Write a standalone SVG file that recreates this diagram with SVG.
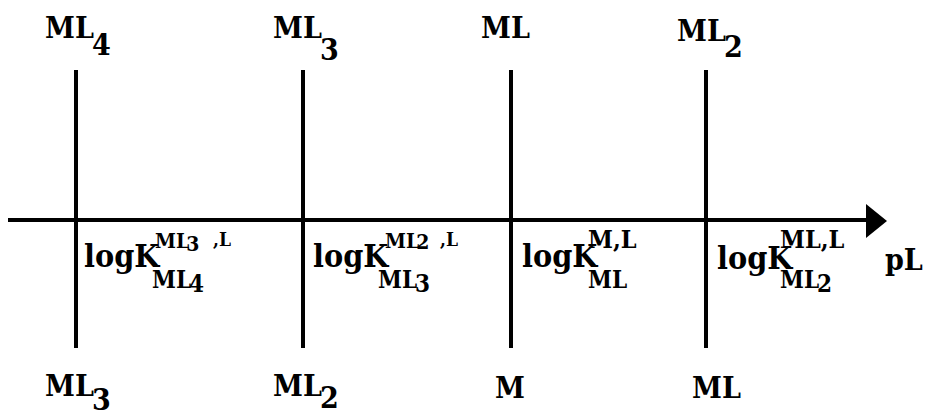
<svg xmlns="http://www.w3.org/2000/svg" width="926" height="412" viewBox="0 0 926 412" font-family="DejaVu Serif Condensed, DejaVu Serif, serif" font-weight="bold">
<style>
.sp{font-size:30px}
.lg{font-size:32px}
.s{font-size:24px}
.ss{font-size:21px}
.sm{font-size:25px}
.sl{font-size:19px}
.ln{stroke:#000;stroke-width:4;fill:none}
</style>
<rect width="926" height="412" fill="#fff"/>
<g id="connectors">
<line class="ln" x1="8" y1="220" x2="870" y2="220" stroke-width="4.5"/>
<polygon points="866,204 887,221 866,238" fill="#000"/>
</g>
<g id="b1">
<line class="ln" x1="76" y1="70" x2="76" y2="348"/>
<text class="sp" x="45" y="38">ML<tspan dx="-2" y="55">4</tspan></text>
<text class="sp" x="45" y="396">ML<tspan dx="-2" y="410">3</tspan></text>
<text class="lg" x="84" y="267">logK</text>
<text class="s" x="152" y="288">ML<tspan dx="-2" dy="4">4</tspan></text>
<text class="ss" x="155" y="248">ML<tspan dx="-3" dy="3">3</tspan></text>
<text class="sl" x="213" y="246">,L</text>
</g>
<g id="b2">
<line class="ln" x1="303" y1="70" x2="303" y2="348"/>
<text class="sp" x="273" y="38">ML<tspan dx="-2" y="60">3</tspan></text>
<text class="sp" x="273" y="396">ML<tspan dx="-2" y="408">2</tspan></text>
<text class="lg" x="313" y="267">logK</text>
<text class="s" x="378" y="288">ML<tspan dx="-2" dy="4">3</tspan></text>
<text class="ss" x="385" y="248">ML<tspan dx="-3" dy="1">2</tspan></text>
<text class="sl" x="440" y="246">,L</text>
</g>
<g id="b3">
<line class="ln" x1="511" y1="70" x2="511" y2="348"/>
<text class="sp" x="481" y="38">ML</text>
<text class="sp" x="495" y="398">M</text>
<text class="lg" x="522" y="267">logK</text>
<text class="s" x="588" y="288">ML</text>
<text class="sm" x="588" y="248">M,L</text>
</g>
<g id="b4">
<line class="ln" x1="706" y1="70" x2="706" y2="348"/>
<text class="sp" x="677" y="41">ML<tspan dx="-2" y="57">2</tspan></text>
<text class="sp" x="692" y="398">ML</text>
<text class="lg" x="717" y="269">logK</text>
<text class="s" x="780" y="288">ML<tspan dx="-2" dy="4">2</tspan></text>
<text class="sm" x="780" y="248">ML,L</text>
</g>
<g id="pL">
<text class="sp" x="885" y="270">pL</text>
</g>
</svg>
